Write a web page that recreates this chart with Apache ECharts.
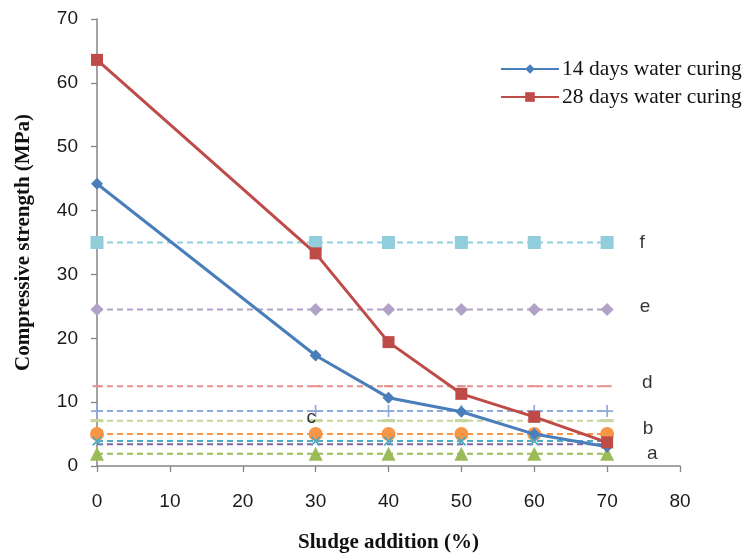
<!DOCTYPE html>
<html><head><meta charset="utf-8">
<script src="https://cdn.jsdelivr.net/npm/echarts@6/dist/echarts.min.js"></script>
<style>html,body{margin:0;padding:0;background:#fff}#c{width:749px;height:558px}</style>
</head><body><div id="c"></div>
<script>
var sludge = [0, 30, 40, 50, 60, 70];
var days14 = [44.2, 17.3, 10.7, 8.5, 5.0, 3.0];
var days28 = [63.6, 33.3, 19.4, 11.3, 7.7, 3.7];
var refF = 35.0, refE = 24.5, refD = 12.5, refPlus = 8.6, refC = 7.1, refOrange = 5.0, refTeal = 3.9, refPurple = 3.4, refA = 1.9;
var letters = ['f', 'e', 'd', 'c', 'b', 'a'];
var letterX = [74.8, 75.2, 75.5, 29.4, 75.6, 76.2];
var letterY = [34.9, 25.0, 13.1, 7.5, 5.8, 1.9];
var xTicks = [0, 80, 10];
var yTicks = [0, 70, 10];

function pairs(ys){ return sludge.map(function(x,i){ return [x, ys[i]]; }); }
function flat(v){ return sludge.map(function(x){ return [x, v]; }); }
function refLine(v, color, symbol, size, extra){
  var s = {type:'line', data: flat(v), symbol: symbol, symbolSize: size, showSymbol: true,
    lineStyle:{color: color, width: 2, type:[6,4]}, itemStyle:{color: color}, silent:true, z:2, animation:false};
  if (extra) for (var k in extra) s[k] = extra[k];
  return s;
}
var plusPath = 'path://M4.3,0h1.4v4.3h4.3v1.4h-4.3v4.3h-1.4v-4.3h-4.3v-1.4h4.3z';

var chart = echarts.init(document.getElementById('c'));
chart.setOption({
  animation:false,
  grid:{left:97, right:69, top:19, bottom:89},
  legend:{data:['14 days water curing','28 days water curing'], orient:'vertical', left:495, top:53, itemWidth:58, itemHeight:12, itemGap:6,
    textStyle:{fontFamily:'Liberation Serif', fontSize:21.5, color:'#111', padding:[0,0,0,-2]}},
  xAxis:{type:'value', min:xTicks[0], max:xTicks[1], interval:xTicks[2],
    name:'Sludge addition (%)', nameLocation:'middle', nameGap:66,
    nameTextStyle:{fontFamily:'Liberation Serif', fontWeight:'bold', fontSize:21, color:'#111'},
    axisLine:{lineStyle:{color:'#868686', width:1.5}}, axisTick:{show:true, length:6, lineStyle:{color:'#868686', width:1.3}},
    axisLabel:{margin:26, fontFamily:'Liberation Sans', fontSize:19, color:'#1a1a1a'}, splitLine:{show:false}},
  yAxis:{type:'value', min:yTicks[0], max:yTicks[1], interval:yTicks[2],
    name:'Compressive strength (MPa)', nameLocation:'middle', nameGap:63,
    nameTextStyle:{fontFamily:'Liberation Serif', fontWeight:'bold', fontSize:21, color:'#111'},
    axisLine:{show:true, lineStyle:{color:'#868686', width:1.5}}, axisTick:{show:true, length:6, lineStyle:{color:'#868686', width:1.3}},
    axisLabel:{margin:19, fontFamily:'Liberation Sans', fontSize:19, color:'#1a1a1a'}, splitLine:{show:false}},
  series:[
    refLine(refF, '#92CDDC', 'rect', 13),
    refLine(refE, '#B3A2C7', 'diamond', 13),
    refLine(refD, '#E6908E', 'rect', [9,2]),
    refLine(refPlus, '#8EA9DB', plusPath, 12),
    refLine(refC, '#C3D69B', 'rect', [13,3]),
    refLine(refOrange, '#F79646', 'circle', 14),
    refLine(refTeal, '#4BACC6', plusPath, 12, {symbolRotate:45}),
    refLine(refPurple, '#8064A2', 'none', 1),
    refLine(refA, '#9BBB59', 'triangle', 14),
    {type:'scatter', data: letters.map(function(t,i){ return {value:[letterX[i], letterY[i]], name:t}; }),
      symbolSize:0, silent:true, z:5,
      label:{show:true, position:'inside', formatter:function(p){return p.name;}, fontFamily:'Liberation Sans', fontSize:19, color:'#000'}},
    {name:'14 days water curing', type:'line', data: pairs(days14), symbol:'diamond', symbolSize:12,
      lineStyle:{color:'#4A7EBB', width:3}, itemStyle:{color:'#4A7EBB'}, z:4},
    {name:'28 days water curing', type:'line', data: pairs(days28), symbol:'rect', symbolSize:12,
      lineStyle:{color:'#BE4B48', width:3}, itemStyle:{color:'#BE4B48'}, z:4}
  ]
});
</script></body></html>
